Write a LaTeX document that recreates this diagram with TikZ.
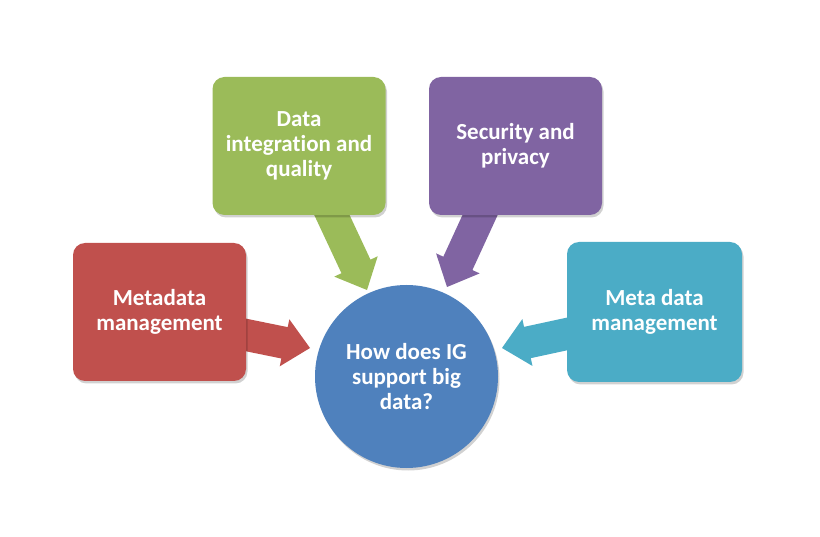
\documentclass[tikz,border=0pt]{standalone}
\usepackage{fontspec}
\setmainfont{Carlito}[Ligatures=NoCommon]
\usetikzlibrary{calc,shadows}
\definecolor{cred}{HTML}{C0504D}
\definecolor{cgreen}{HTML}{9BBB59}
\definecolor{cpurple}{HTML}{8064A2}
\definecolor{cteal}{HTML}{4BACC6}
\definecolor{cblue}{HTML}{4F81BD}
\pgfdeclarelayer{bg}
\pgfsetlayers{bg,main}
\tikzset{
  softshade/.style={drop shadow={shadow xshift=1.5pt, shadow yshift=-2.5pt, opacity=0.18, fill=black}},
  labeltext/.style={text=white, font=\bfseries\fontsize{23}{25}\selectfont, align=center},
  topicbox/.style={labeltext, rounded corners=12pt, minimum width=173pt, minimum height=138pt, inner sep=0pt, softshade},
  hubcircle/.style={labeltext, circle, minimum size=183pt, inner sep=0pt, fill=cblue, softshade},
}
\newcommand\BlkArrow[3]{% #1 edge point, #2 tip, #3 colour
  \path ($(#2)!1.3!(#1)$) coordinate (bs);
  \path ($(#2)!26pt!(bs)$) coordinate (hb);
  \fill[#3] ($(bs)!16pt!90:(#2)$) -- ($(hb)!16pt!90:(#2)$) -- ($(hb)!24pt!90:(#2)$)
    -- (#2) -- ($(hb)!24pt!-90:(#2)$) -- ($(hb)!16pt!-90:(#2)$) -- ($(bs)!16pt!-90:(#2)$) -- cycle;
}
\begin{document}
\begin{tikzpicture}[x=1pt,y=-1pt]
  \useasboundingbox (0,0) rectangle (820,537);
  \node[topicbox, fill=cred]    (red)    at (159.5,312) {Metadata\\management};
  \node[topicbox, fill=cgreen]  (green)  at (299,146)   {Data\\integration and\\quality};
  \node[topicbox, fill=cpurple] (purple) at (515.5,146) {Security and\\privacy};
  \node[topicbox, fill=cteal, minimum width=175pt, minimum height=140pt] (teal) at (654.5,312) {Meta data\\management};
  \node[hubcircle] (hub) at (406.5,376.5) {How does IG\\support big\\data?};
  \coordinate (edgeR) at ($(red.east)+(0,23)$);
  \coordinate (edgeG) at ($(green.south)+(33,0)$);
  \coordinate (edgeP) at ($(purple.south)+(-35.5,0)$);
  \coordinate (edgeT) at ($(teal.west)+(0,22)$);
  \coordinate (tipR) at (310,348);
  \coordinate (tipG) at (367,290);
  \coordinate (tipP) at (447,287);
  \coordinate (tipT) at (502,348);
  \begin{pgfonlayer}{bg}
    \fill[white] (0,0) rectangle (820,537);
    \BlkArrow{edgeR}{tipR}{cred}
    \BlkArrow{edgeG}{tipG}{cgreen}
    \BlkArrow{edgeP}{tipP}{cpurple}
    \BlkArrow{edgeT}{tipT}{cteal}
  \end{pgfonlayer}
\end{tikzpicture}
\end{document}
